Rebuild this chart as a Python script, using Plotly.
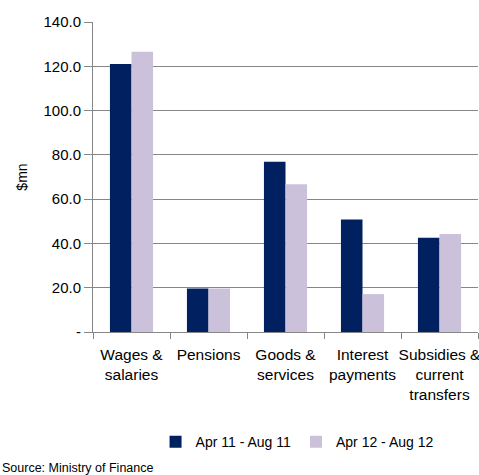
import plotly.graph_objects as go

categories = ["Wages &<br>salaries", "Pensions", "Goods &<br>services", "Interest<br>payments", "Subsidies &<br>current<br>transfers"]
series_names = ["Apr 11 - Aug 11", "Apr 12 - Aug 12"]
apr11_aug11 = [121.0, 19.7, 76.9, 50.8, 42.6]
apr12_aug12 = [126.6, 19.7, 66.7, 17.1, 44.3]
colors = ["#002060", "#CCC1DA"]
y_tickvals = [0, 20, 40, 60, 80, 100, 120, 140]
y_ticktext = ["-", "20.0", "40.0", "60.0", "80.0", "100.0", "120.0", "140.0"]

FONT = "Liberation Sans, Arial, sans-serif"

fig = go.Figure()
for name, vals, c in zip(series_names, [apr11_aug11, apr12_aug12], colors):
    fig.add_trace(go.Bar(x=categories, y=vals, name=name, marker=dict(color=c, line=dict(width=0))))

fig.update_layout(
    width=479, height=475,
    margin=dict(l=93, r=1, t=22, b=143, autoexpand=False),
    barmode="group", bargap=0.44, bargroupgap=0,
    plot_bgcolor="white", paper_bgcolor="white",
    font=dict(family=FONT, size=15, color="#000000"),
    showlegend=True,
    legend=dict(orientation="h", x=0.53, xanchor="center", y=-0.355, yanchor="middle",
                font=dict(family=FONT, size=14), traceorder="normal",
                itemwidth=30, tracegroupgap=0),
    annotations=[dict(text="Source: Ministry of Finance", xref="paper", yref="paper",
                      x=-93/385, xanchor="left", y=-136/310, yanchor="middle", showarrow=False,
                      font=dict(family=FONT, size=12.5))],
)
fig.update_xaxes(
    type="category", showline=True, linecolor="#868686", linewidth=1,
    ticks="outside", tickson="boundaries", ticklen=6, tickcolor="#868686",
    showgrid=False, tickfont=dict(size=15.5), tickangle=0, automargin=False, fixedrange=True,
    ticklabelstandoff=8,
)
fig.update_yaxes(
    range=[0, 140], tickvals=y_tickvals, ticktext=y_ticktext,
    showline=True, linecolor="#868686", linewidth=1,
    ticks="outside", ticklen=8, tickcolor="#868686",
    showgrid=True, gridcolor="#868686", gridwidth=1, zeroline=False,
    tickfont=dict(size=15), automargin=False, fixedrange=True,
    title=dict(text="$mn", font=dict(size=14), standoff=12),
)
fig.write_html("out.html", config={"displayModeBar": False},
               post_script="document.body.style.margin='0';")
